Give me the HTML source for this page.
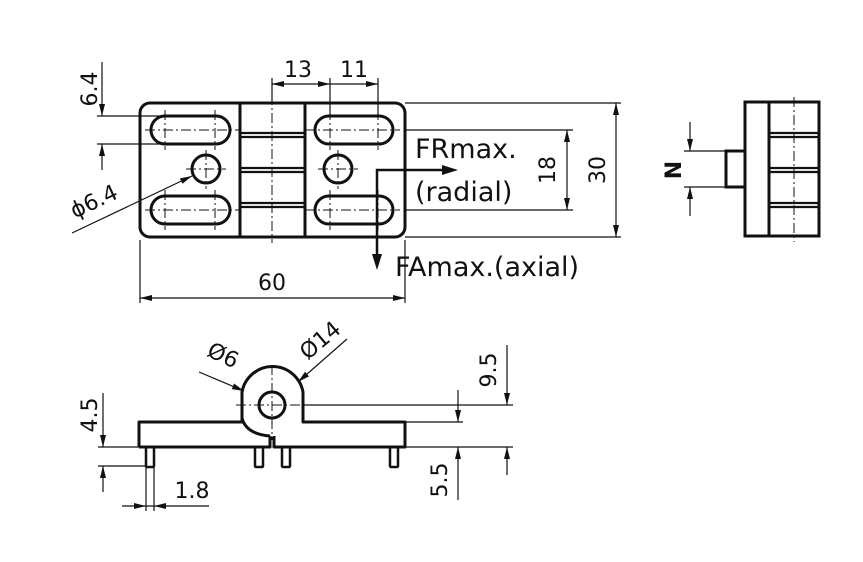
<!DOCTYPE html>
<html><head><style>body{margin:0;background:#fff}svg{display:block}text{font-family:"DejaVu Sans","Liberation Sans",sans-serif;fill:#111}</style></head>
<body>
<svg width="863" height="562" viewBox="0 0 863 562" xmlns="http://www.w3.org/2000/svg">
<g stroke="#111" fill="none">
<!-- top view -->
<rect x="140" y="103" width="265" height="134" rx="10" stroke-width="3"/>
<line x1="240" y1="103" x2="240" y2="237" stroke-width="3"/>
<line x1="305" y1="103" x2="305" y2="237" stroke-width="3"/>
<g stroke-width="2.2">
<line x1="240" y1="133" x2="305" y2="133"/><line x1="240" y1="137" x2="305" y2="137"/>
<line x1="240" y1="168" x2="305" y2="168"/><line x1="240" y1="172" x2="305" y2="172"/>
<line x1="240" y1="203" x2="305" y2="203"/><line x1="240" y1="207" x2="305" y2="207"/>
</g>
<g stroke-width="3">
<rect x="151" y="116" width="79" height="28" rx="14"/>
<rect x="151" y="196" width="79" height="28" rx="14"/>
<rect x="315" y="116" width="78" height="28" rx="14"/>
<rect x="315" y="196" width="78" height="28" rx="14"/>
<circle cx="206" cy="169" r="14"/>
<circle cx="338" cy="169" r="14"/>
</g>
<g stroke-width="1" stroke-dasharray="10,3,2,3">
<line x1="145" y1="130" x2="240" y2="130"/><line x1="145" y1="210" x2="240" y2="210"/>
<line x1="305" y1="130" x2="400" y2="130"/><line x1="305" y1="210" x2="400" y2="210"/>
<line x1="165" y1="110" x2="165" y2="150"/><line x1="215" y1="110" x2="215" y2="150"/>
<line x1="165" y1="190" x2="165" y2="230"/><line x1="215" y1="190" x2="215" y2="230"/>
<line x1="330" y1="110" x2="330" y2="150"/><line x1="378" y1="110" x2="378" y2="150"/>
<line x1="330" y1="190" x2="330" y2="230"/><line x1="378" y1="190" x2="378" y2="230"/>
<line x1="186" y1="169" x2="226" y2="169"/><line x1="206" y1="150" x2="206" y2="189"/>
<line x1="318" y1="169" x2="358" y2="169"/><line x1="338" y1="150" x2="338" y2="189"/>
<line x1="272" y1="95" x2="272" y2="243"/>
</g>
<g stroke-width="1.2">
<line x1="97" y1="116" x2="165" y2="116"/><line x1="97" y1="144" x2="165" y2="144"/>
<line x1="102" y1="62" x2="102" y2="116"/>
<line x1="102" y1="170" x2="102" y2="144"/>
<line x1="272" y1="78" x2="272" y2="103"/><line x1="330" y1="78" x2="330" y2="116"/><line x1="378" y1="78" x2="378" y2="116"/>
<line x1="272" y1="84" x2="378" y2="84"/>
<line x1="140" y1="240" x2="140" y2="303"/><line x1="405" y1="240" x2="405" y2="303"/>
<line x1="140" y1="298" x2="405" y2="298"/>
<line x1="72" y1="233" x2="192" y2="176"/>
<line x1="405" y1="130" x2="573" y2="130"/><line x1="405" y1="210" x2="573" y2="210"/>
<line x1="567" y1="130" x2="567" y2="210"/>
<line x1="405" y1="103" x2="621" y2="103"/><line x1="405" y1="237" x2="621" y2="237"/>
<line x1="616" y1="103" x2="616" y2="237"/>
</g>
<path d="M377,256 V170 H444" stroke-width="2.5" fill="none"/>
<!-- side view -->
<rect x="745" y="102" width="74" height="134" stroke-width="3"/>
<line x1="769" y1="102" x2="769" y2="236" stroke-width="3"/>
<g stroke-width="2.2">
<line x1="769" y1="133" x2="819" y2="133"/><line x1="769" y1="137" x2="819" y2="137"/>
<line x1="769" y1="168" x2="819" y2="168"/><line x1="769" y1="172" x2="819" y2="172"/>
<line x1="769" y1="203" x2="819" y2="203"/><line x1="769" y1="207" x2="819" y2="207"/>
</g>
<rect x="726" y="151" width="19" height="36" stroke-width="3"/>
<line x1="794" y1="97" x2="794" y2="242" stroke-width="1" stroke-dasharray="10,3,2,3"/>
<g stroke-width="1.2">
<line x1="684" y1="151" x2="726" y2="151"/><line x1="684" y1="187" x2="726" y2="187"/>
<line x1="690" y1="122" x2="690" y2="151"/>
<line x1="690" y1="216" x2="690" y2="187"/>
</g>
<!-- bottom view -->
<path d="M139,447 V422 H242 V392 A31,31 0 0 1 303,392 V422 H405 V447 H274 V436 M270,436 V447 H139" stroke-width="3" stroke-linejoin="round"/>
<path d="M242,418 Q246,434 270,436" stroke-width="3"/>
<circle cx="272" cy="405" r="13" stroke-width="3"/>
<g stroke-width="2.5">
<rect x="146" y="447" width="8" height="20" rx="1"/>
<rect x="255" y="447" width="8" height="20" rx="1"/>
<rect x="282" y="447" width="8" height="20" rx="1"/>
<rect x="390" y="447" width="8" height="20" rx="1"/>
</g>
<g stroke-width="1" stroke-dasharray="10,3,2,3">
<line x1="236" y1="405" x2="308" y2="405"/><line x1="272" y1="365" x2="272" y2="440"/>
</g>
<g stroke-width="1.2">
<line x1="303" y1="405" x2="513" y2="405"/>
<line x1="405" y1="422" x2="463" y2="422"/>
<line x1="405" y1="447" x2="513" y2="447"/>
<line x1="458" y1="390" x2="458" y2="422"/>
<line x1="458" y1="500" x2="458" y2="447"/>
<line x1="507" y1="345" x2="507" y2="405"/>
<line x1="507" y1="475" x2="507" y2="447"/>
<line x1="98" y1="447" x2="146" y2="447"/><line x1="98" y1="466" x2="146" y2="466"/>
<line x1="103" y1="393" x2="103" y2="447"/>
<line x1="103" y1="492" x2="103" y2="466"/>
<line x1="146" y1="467" x2="146" y2="511"/><line x1="154" y1="467" x2="154" y2="511"/>
<line x1="122" y1="506" x2="209" y2="506"/>
<line x1="199" y1="372" x2="244" y2="391"/>
<line x1="347" y1="339" x2="298" y2="382"/>
</g>
</g>
<g fill="#111">
<path d="M102,116l-3,-12h6z"/><path d="M102,144l-3,12h6z"/>
<path d="M272,84l12,-3v6z"/><path d="M330,84l-12,-3v6z"/><path d="M378,84l-12,-3v6z"/>
<path d="M140,298l12,-3v6z"/><path d="M405,298l-12,-3v6z"/>
<path d="M192,176L182.5,183.8L179.9,178.4z"/>
<path d="M567,130l-3,12h6z"/><path d="M567,210l-3,-12h6z"/>
<path d="M616,103l-3,12h6z"/><path d="M616,237l-3,-12h6z"/>
<path d="M458,170l-16,-5v10z"/><path d="M377,270l-5,-16h10z"/>
<path d="M690,151l-3,-12h6z"/><path d="M690,187l-3,12h6z"/>
<path d="M458,422l-3,-12h6z"/><path d="M458,447l-3,12h6z"/>
<path d="M507,405l-3,-12h6z"/><path d="M507,447l-3,12h6z"/>
<path d="M103,447l-3,-12h6z"/><path d="M103,466l-3,12h6z"/>
<path d="M146,506l-12,-3v6z"/><path d="M154,506l12,-3v6z"/>
<path d="M244,391L231.8,389.1L234.1,383.5z"/>
<path d="M298,382L309,376.4L305,371.8z"/>
</g>
<g font-size="22">
<text x="298" y="77" text-anchor="middle">13</text>
<text x="354" y="77" text-anchor="middle">11</text>
<text x="272" y="290" text-anchor="middle">60</text>
<text transform="translate(97,89) rotate(-90)" text-anchor="middle">6.4</text>
<text transform="translate(97,208) rotate(-25)" text-anchor="middle">ϕ6.4</text>
<text transform="translate(555,170) rotate(-90)" text-anchor="middle">18</text>
<text transform="translate(605,170) rotate(-90)" text-anchor="middle">30</text>
<text transform="translate(681,170) rotate(-90)" text-anchor="middle" font-weight="bold">N</text>
<text transform="translate(97,415) rotate(-90)" text-anchor="middle">4.5</text>
<text x="192" y="498" text-anchor="middle">1.8</text>
<text transform="translate(496,370) rotate(-90)" text-anchor="middle">9.5</text>
<text transform="translate(447,480) rotate(-90)" text-anchor="middle">5.5</text>
<text transform="translate(220,362) rotate(25)" text-anchor="middle">Ø6</text>
<text transform="translate(325,346) rotate(-40)" text-anchor="middle">Ø14</text>
</g>
<g font-size="27" style="font-family:'DejaVu Sans Condensed','DejaVu Sans',sans-serif">
<text x="415" y="158">FRmax.</text>
<text x="415" y="201">(radial)</text>
<text x="395" y="276">FAmax.(axial)</text>
</g>
</svg>
</body></html>
